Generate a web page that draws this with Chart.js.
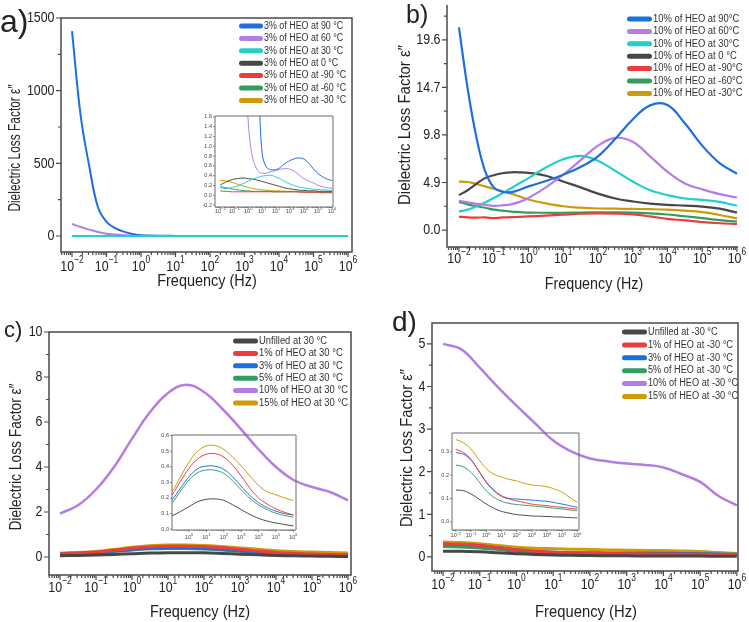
<!DOCTYPE html>
<html>
<head>
<meta charset="utf-8">
<title>Dielectric loss factor</title>
<script src="https://cdn.jsdelivr.net/npm/chart.js@4.4.1/dist/chart.umd.min.js"></script>
<style>
  body { margin: 0; background: #fff; }
  #fig { position: relative; width: 749px; height: 622px; overflow: hidden; font-family: "Liberation Sans", Arial, sans-serif; color: #222; }
  #fig canvas { position: absolute; }
  .txt { position: absolute; white-space: nowrap; line-height: 1; }
</style>
</head>
<body>
<div id="fig">
  <canvas id="chartA" width="375" height="300" style="left:0;top:0"></canvas>
  <canvas id="chartB" width="374" height="300" style="left:375px;top:0"></canvas>
  <canvas id="chartC" width="375" height="322" style="left:0;top:300px"></canvas>
  <canvas id="chartD" width="374" height="322" style="left:375px;top:300px"></canvas>
  <canvas id="insetA" width="145" height="118" style="left:195px;top:108px"></canvas>
  <canvas id="insetC" width="155" height="120" style="left:152px;top:425px"></canvas>
  <canvas id="insetD" width="157" height="122" style="left:432px;top:423px"></canvas>

  <div class="txt" style="left:0;top:5px;font-size:32px">a)</div>
  <div class="txt" style="left:406px;top:2px;font-size:25px">b)</div>
  <div class="txt" style="left:4px;top:319px;font-size:22px">c)</div>
  <div class="txt" style="left:392px;top:308px;font-size:28px">d)</div>

  <div class="txt" style="left:14px;top:148px;font-size:17px;transform:translate(-50%,-50%) rotate(-90deg) scaleX(0.70)">Dielectric Loss Factor ε″</div>
  <div class="txt" style="left:404px;top:125px;font-size:17px;transform:translate(-50%,-50%) rotate(-90deg) scaleX(0.88)">Dielectric Loss Factor ε″</div>
  <div class="txt" style="left:15px;top:457px;font-size:17px;transform:translate(-50%,-50%) rotate(-90deg) scaleX(0.81)">Dielectric Loss Factor ε″</div>
  <div class="txt" style="left:406px;top:448px;font-size:17px;transform:translate(-50%,-50%) rotate(-90deg) scaleX(0.87)">Dielectric Loss Factor ε″</div>

  <div class="txt" style="left:207px;top:280px;font-size:17px;transform:translate(-50%,-50%) scaleX(0.85)">Frequency (Hz)</div>
  <div class="txt" style="left:594px;top:283px;font-size:17px;transform:translate(-50%,-50%) scaleX(0.84)">Frequency (Hz)</div>
  <div class="txt" style="left:200px;top:611px;font-size:17px;transform:translate(-50%,-50%) scaleX(0.855)">Frequency (Hz)</div>
  <div class="txt" style="left:586px;top:611px;font-size:17px;transform:translate(-50%,-50%) scaleX(0.87)">Frequency (Hz)</div>
</div>

<script>
// ---- data (frequencies as log10 of Hz) ----

// a) 3% HEO at several temperatures
const freqExpA = [-2, -1.75, -1.5, -1.25, -1, -0.75, -0.5, -0.25, 0, 0.25, 0.5, 0.75, 1, 1.25, 1.5, 1.75, 2,
  2.25, 2.5, 2.75, 3, 3.25, 3.5, 3.75, 4, 4.25, 4.5, 4.75, 5, 5.25, 5.5, 5.75, 6];
const a90 = [1410, 830, 480, 200, 98, 55, 30, 14, 6, 3.5, 2.3, 1.9, 0.85, 0.6, 0.53, 0.52, 0.52,
  0.56, 0.62, 0.67, 0.71, 0.74, 0.76, 0.76, 0.74, 0.68, 0.6, 0.51, 0.44, 0.39, 0.35, 0.32, 0.3];
const a60 = [83, 62, 44, 28, 16, 10, 6, 3, 1.5, 0.85, 0.6, 0.48, 0.45, 0.45, 0.47, 0.49, 0.51,
  0.53, 0.54, 0.545, 0.53, 0.5, 0.45, 0.39, 0.34, 0.3, 0.27, 0.24, 0.2, 0.18, 0.16, 0.15, 0.14];
const a30 = [0.15, 0.14, 0.14, 0.15, 0.17, 0.19, 0.22, 0.25, 0.29, 0.32, 0.35, 0.37, 0.39, 0.4, 0.41, 0.4, 0.37,
  0.34, 0.3, 0.26, 0.23, 0.2, 0.18, 0.16, 0.15, 0.14, 0.13, 0.12, 0.12, 0.11, 0.11, 0.1, 0.1];
const a0 = [0.21, 0.25, 0.28, 0.31, 0.33, 0.34, 0.35, 0.35, 0.34, 0.33, 0.32, 0.3, 0.28, 0.26, 0.24, 0.22, 0.2,
  0.18, 0.16, 0.14, 0.13, 0.12, 0.11, 0.1, 0.1, 0.09, 0.09, 0.09, 0.08, 0.08, 0.08, 0.08, 0.07];
const aM90 = [0.09, 0.08, 0.08, 0.07, 0.07, 0.07, 0.07, 0.07, 0.07, 0.07, 0.07, 0.07, 0.07, 0.07, 0.07, 0.07, 0.07,
  0.07, 0.07, 0.07, 0.07, 0.07, 0.07, 0.06, 0.06, 0.06, 0.06, 0.06, 0.06, 0.05, 0.05, 0.05, 0.05];
const aM60 = [0.18, 0.16, 0.15, 0.13, 0.12, 0.11, 0.1, 0.09, 0.09, 0.08, 0.08, 0.08, 0.08, 0.08, 0.08, 0.07, 0.07,
  0.07, 0.07, 0.07, 0.07, 0.07, 0.07, 0.07, 0.07, 0.06, 0.06, 0.06, 0.06, 0.06, 0.06, 0.06, 0.06];
const aM30 = [0.3, 0.3, 0.29, 0.27, 0.25, 0.22, 0.2, 0.18, 0.16, 0.14, 0.13, 0.12, 0.11, 0.1, 0.1, 0.09, 0.09,
  0.09, 0.08, 0.08, 0.08, 0.08, 0.08, 0.07, 0.07, 0.07, 0.07, 0.07, 0.07, 0.06, 0.06, 0.06, 0.06];

// b) 10% HEO at several temperatures
const freqExpB = [-2, -1.75, -1.5, -1.25, -1, -0.75, -0.5, -0.25, 0, 0.5, 1, 1.5, 2, 2.5, 3, 3.5, 4, 4.5, 5, 5.5, 6];
const b90 = [20.9, 14.6, 9.6, 6.1, 4.4, 3.95, 3.9, 4.15, 4.5, 5.05, 5.7, 6.5, 7.6, 9.4, 11.4, 12.85, 12.9, 11.0, 8.7, 6.9, 5.8];
const b60 = [3.0, 2.85, 2.7, 2.6, 2.5, 2.55, 2.65, 2.9, 3.3, 4.4, 5.7, 7.2, 8.7, 9.5, 9.1, 7.6, 6.0, 4.8, 4.2, 3.7, 3.35];
const b30 = [1.9, 2.1, 2.45, 2.85, 3.3, 3.8, 4.3, 4.85, 5.35, 6.45, 7.3, 7.65, 7.15, 6.1, 5.0, 4.1, 3.6, 3.25, 3.1, 2.9, 2.5];
const b0 = [3.6, 4.1, 4.75, 5.35, 5.65, 5.85, 5.95, 5.95, 5.9, 5.6, 5.0, 4.4, 3.75, 3.25, 2.95, 2.72, 2.6, 2.52, 2.42, 2.2, 1.8];
const bM90 = [1.38, 1.3, 1.28, 1.3, 1.22, 1.3, 1.32, 1.36, 1.4, 1.48, 1.58, 1.68, 1.72, 1.7, 1.62, 1.4, 1.15, 1.0, 0.82, 0.7, 0.62];
const bM60 = [2.9, 2.65, 2.45, 2.3, 2.1, 2.0, 1.9, 1.85, 1.8, 1.78, 1.78, 1.8, 1.82, 1.82, 1.8, 1.72, 1.6, 1.42, 1.22, 1.02, 0.86];
const bM30 = [5.0, 4.95, 4.75, 4.5, 4.25, 4.0, 3.75, 3.45, 3.15, 2.75, 2.45, 2.3, 2.22, 2.2, 2.18, 2.15, 2.1, 2.0, 1.85, 1.55, 1.2];

// c) filler content at 30 °C
const freqExpC = [-2, -1.5, -1, -0.5, 0, 0.5, 1, 1.5, 2, 2.5, 3, 3.5, 4, 4.5, 5, 5.5, 6];
const cUnfilled = [0.055, 0.068, 0.085, 0.113, 0.145, 0.176, 0.191, 0.194, 0.184, 0.157, 0.125, 0.095, 0.07, 0.052, 0.04, 0.03, 0.021];
const c1 = [0.15, 0.18, 0.22, 0.305, 0.39, 0.45, 0.48, 0.483, 0.462, 0.41, 0.34, 0.262, 0.2, 0.16, 0.13, 0.108, 0.091];
const c3 = [0.13, 0.155, 0.187, 0.262, 0.336, 0.388, 0.404, 0.403, 0.383, 0.336, 0.275, 0.215, 0.17, 0.138, 0.115, 0.1, 0.091];
const c5 = [0.11, 0.135, 0.166, 0.242, 0.315, 0.362, 0.379, 0.377, 0.357, 0.31, 0.252, 0.197, 0.155, 0.125, 0.102, 0.088, 0.077];
const c10 = [1.93, 2.3, 3.0, 4.0, 5.26, 6.44, 7.29, 7.66, 7.33, 6.6, 5.73, 4.81, 4.0, 3.41, 3.11, 2.89, 2.52];
const c15 = [0.17, 0.2, 0.24, 0.335, 0.43, 0.5, 0.533, 0.535, 0.51, 0.462, 0.405, 0.34, 0.28, 0.24, 0.22, 0.2, 0.183];

// d) filler content at -30 °C
const freqExpD = [-2, -1.5, -1, -0.5, 0, 0.5, 1, 1.5, 2, 2.5, 3, 3.5, 4, 4.5, 5, 5.5, 6];
const dUnfilled = [0.136, 0.133, 0.119, 0.098, 0.076, 0.058, 0.045, 0.037, 0.031, 0.028, 0.025, 0.024, 0.023, 0.021, 0.02, 0.018, 0.017];
const d1 = [0.31, 0.296, 0.267, 0.218, 0.168, 0.133, 0.109, 0.098, 0.09, 0.083, 0.076, 0.072, 0.069, 0.065, 0.062, 0.058, 0.055];
const d3 = [0.296, 0.289, 0.263, 0.218, 0.171, 0.136, 0.112, 0.1, 0.098, 0.095, 0.093, 0.09, 0.088, 0.082, 0.076, 0.069, 0.062];
const d5 = [0.243, 0.235, 0.211, 0.173, 0.133, 0.105, 0.088, 0.079, 0.074, 0.071, 0.068, 0.065, 0.062, 0.058, 0.055, 0.051, 0.048];
const d10 = [5.0, 4.87, 4.44, 3.98, 3.55, 3.14, 2.73, 2.47, 2.31, 2.24, 2.19, 2.16, 2.1, 1.94, 1.76, 1.43, 1.21];
const d15 = [0.352, 0.338, 0.31, 0.267, 0.228, 0.204, 0.192, 0.182, 0.175, 0.165, 0.158, 0.154, 0.15, 0.14, 0.126, 0.105, 0.083];

// axis ticks
const xDecades = [-2, -1, 0, 1, 2, 3, 4, 5, 6];
const xDecadesInsetC = [0, 1, 2, 3, 4, 5, 6];
const yTicksA = [0, 500, 1000, 1500];
const yMinorA = [250, 750, 1250];
const yTicksB = [0, 4.9, 9.8, 14.7, 19.6];
const yMinorB = [2.45, 7.35, 12.25, 17.15, 22.05];
const yTicksC = [0, 2, 4, 6, 8, 10];
const yMinorC = [1, 3, 5, 7, 9];
const yTicksD = [0, 1, 2, 3, 4, 5];
const yMinorD = [0.5, 1.5, 2.5, 3.5, 4.5];
const yTicksInsetA = [-0.2, 0, 0.2, 0.4, 0.6, 0.8, 1.0, 1.2, 1.4, 1.6];
const yTicksInsetC = [0, 0.1, 0.2, 0.3, 0.4, 0.5, 0.6];
const yTicksInsetD = [0, 0.1, 0.2, 0.3];

// ---- drawing ----
const FONT = '"Liberation Sans", Arial, sans-serif';
const COL = {
  blue: "#1d6fe0",
  purple: "#b47de6",
  cyan: "#22cfcc",
  gray: "#474747",
  red: "#ee3c3c",
  green: "#2f9e60",
  gold: "#cf9a08"
};

function series(label, color, exps, vals, width, order) {
  return {
    label: label,
    data: exps.map((e, i) => ({ x: Math.pow(10, e), y: vals[i] })),
    borderColor: color,
    backgroundColor: color,
    borderWidth: width,
    pointRadius: 0,
    tension: 0.4,
    fill: false,
    order: order || 1
  };
}

function logTicks(minExp, maxExp, labelled) {
  const ticks = [];
  for (let e = Math.floor(minExp); e <= Math.ceil(maxExp); e++) {
    for (let d = 1; d <= 9; d++) {
      const v = d * Math.pow(10, e);
      const lv = Math.log10(v);
      if (lv >= minExp - 1e-9 && lv <= maxExp + 1e-9) {
        ticks.push({ value: v, major: d === 1 && labelled.includes(e) });
      }
    }
  }
  return ticks;
}

function drawText(ctx, text, x, y, align, k) {
  ctx.save();
  ctx.translate(x, y);
  ctx.scale(k, 1);
  ctx.textAlign = align;
  ctx.fillText(text, 0, 0);
  ctx.restore();
}

const decoPlugin = {
  id: "deco",
  afterDraw(chart, args, o) {
    const ctx = chart.ctx;
    const a = chart.chartArea;
    const xs = chart.scales.x;
    const ys = chart.scales.y;
    ctx.save();

    ctx.strokeStyle = o.frameColor;
    ctx.lineWidth = o.frameWidth;
    ctx.beginPath();
    if (o.box) {
      ctx.rect(a.left, a.top, a.right - a.left, a.bottom - a.top);
    } else {
      ctx.moveTo(a.left, a.top);
      ctx.lineTo(a.left, a.bottom);
      ctx.lineTo(a.right, a.bottom);
    }
    ctx.stroke();

    ctx.lineWidth = o.tickWidth;
    ctx.beginPath();
    xs.ticks.forEach((t) => {
      const p = xs.getPixelForValue(t.value);
      ctx.moveTo(p, a.bottom);
      ctx.lineTo(p, a.bottom + (t.major ? o.tickLen : o.minorLen));
    });
    ys.ticks.forEach((t) => {
      const p = ys.getPixelForValue(t.value);
      ctx.moveTo(a.left, p);
      ctx.lineTo(a.left - (t.major ? o.tickLen : o.minorLen), p);
    });
    ctx.stroke();

    ctx.fillStyle = o.textColor;
    ctx.textBaseline = "middle";
    ctx.font = o.fontSize + "px " + FONT;
    ys.ticks.forEach((t) => {
      if (!t.major) return;
      drawText(ctx, t.value.toFixed(o.yDec), a.left - o.yPad, ys.getPixelForValue(t.value), "right", o.squish);
    });

    xs.ticks.forEach((t) => {
      if (!t.major) return;
      const e = Math.round(Math.log10(t.value));
      const sup = e < 0 ? "\u2212" + (-e) : String(e);
      ctx.font = o.fontSize + "px " + FONT;
      const w1 = ctx.measureText("10").width * o.squish;
      ctx.font = o.supSize + "px " + FONT;
      const w2 = ctx.measureText(sup).width * o.squish;
      const x0 = xs.getPixelForValue(t.value) - (w1 + w2) / 2;
      const y0 = a.bottom + o.xDy;
      ctx.font = o.fontSize + "px " + FONT;
      drawText(ctx, "10", x0, y0, "left", o.squish);
      ctx.font = o.supSize + "px " + FONT;
      drawText(ctx, sup, x0 + w1, y0 - o.supRise, "left", o.squish);
    });

    const lg = o.legend;
    if (lg) {
      ctx.font = lg.size + "px " + FONT;
      ctx.lineCap = "round";
      chart.data.datasets.forEach((ds, i) => {
        const y = lg.y + i * lg.dy;
        ctx.strokeStyle = ds.borderColor;
        ctx.lineWidth = lg.lw;
        ctx.beginPath();
        ctx.moveTo(lg.x, y);
        ctx.lineTo(lg.x + lg.len, y);
        ctx.stroke();
        ctx.fillStyle = "#333";
        drawText(ctx, ds.label, lg.tx, y, "left", lg.k);
      });
    }
    ctx.restore();
  }
};

const mainDeco = {
  box: true, frameColor: "#4a4a4a", frameWidth: 1.5, tickWidth: 1.2, tickLen: 5, minorLen: 3,
  textColor: "#222", fontSize: 15.5, supSize: 10.5, supRise: 7, squish: 0.8, yPad: 6.5, yDec: 0, xDy: 14
};
const insetDeco = {
  box: true, frameColor: "#6a6a6a", frameWidth: 1, tickWidth: 0.8, tickLen: 2, minorLen: 1,
  textColor: "#444", fontSize: 5.5, supSize: 4, supRise: 2, squish: 1, yPad: 3, yDec: 1, xDy: 4, legend: false
};

function makeChart(id, g) {
  const canvas = document.getElementById(id);
  const W = canvas.width;
  const H = canvas.height;
  return new Chart(canvas, {
    type: "line",
    data: { datasets: g.datasets },
    options: {
      responsive: false,
      animation: false,
      devicePixelRatio: 1,
      layout: { padding: { left: 0, top: g.frame[1], right: W - g.frame[2], bottom: 0 } },
      plugins: { legend: { display: false }, tooltip: { enabled: false }, deco: g.deco },
      scales: {
        x: {
          type: "logarithmic",
          position: "bottom",
          bounds: "data",
          min: Math.pow(10, g.xRange[0]),
          max: Math.pow(10, g.xRange[1]),
          grid: { display: false, drawTicks: false },
          border: { display: false },
          ticks: { display: false },
          afterBuildTicks: (s) => { s.ticks = logTicks(g.xRange[0], g.xRange[1], g.xLabels); },
          afterFit: (s) => { s.height = H - g.frame[3]; }
        },
        y: {
          type: "linear",
          position: "left",
          bounds: "data",
          min: g.yRange[0],
          max: g.yRange[1],
          grid: { display: false, drawTicks: false },
          border: { display: false },
          ticks: { display: false },
          afterBuildTicks: (s) => {
            s.ticks = g.yMajor.map((v) => ({ value: v, major: true }))
              .concat((g.yMinor || []).map((v) => ({ value: v, major: false })))
              .sort((p, q) => p.value - q.value);
          },
          afterFit: (s) => { s.width = g.frame[0]; }
        }
      }
    },
    plugins: [decoPlugin]
  });
}

// a) main + inset
function seriesA(w, cyanOrder) {
  return [
    series("3% of HEO at 90 \u00B0C", COL.blue, freqExpA, a90, w),
    series("3% of HEO at 60 \u00B0C", COL.purple, freqExpA, a60, w),
    series("3% of HEO at 30 \u00B0C", COL.cyan, freqExpA, a30, w, cyanOrder),
    series("3% of HEO at 0 \u00B0C", COL.gray, freqExpA, a0, w),
    series("3% of HEO at -90 \u00B0C", COL.red, freqExpA, aM90, w),
    series("3% of HEO at -60 \u00B0C", COL.green, freqExpA, aM60, w),
    series("3% of HEO at -30 \u00B0C", COL.gold, freqExpA, aM30, w)
  ];
}

makeChart("chartA", {
  frame: [61, 18, 352, 252],
  xRange: [-2.319, 6.116], xLabels: xDecades,
  yRange: [-110, 1500], yMajor: yTicksA, yMinor: yMinorA,
  datasets: seriesA(2, 0.5),
  deco: Object.assign({}, mainDeco, { xDy: 15,
    legend: { x: 241.5, tx: 264, y: 26, dy: 12.4, len: 19, lw: 5, size: 10, k: 0.89 } })
});

makeChart("insetA", {
  frame: [20, 8, 138, 99],
  xRange: [-2.38, 6.07], xLabels: xDecades,
  yRange: [-0.241, 1.62], yMajor: yTicksInsetA,
  datasets: seriesA(1, 1),
  deco: Object.assign({}, insetDeco)
});

// b)
makeChart("chartB", {
  frame: [72, 5, 363, 247],
  xRange: [-2.344, 6.03], xLabels: xDecades,
  yRange: [-1.75, 23.2], yMajor: yTicksB, yMinor: yMinorB,
  datasets: [
    series("10% of HEO at 90\u00B0C", COL.blue, freqExpB, b90, 2.2),
    series("10% of HEO at 60\u00B0C", COL.purple, freqExpB, b60, 2.2),
    series("10% of HEO at 30\u00B0C", COL.cyan, freqExpB, b30, 2.2),
    series("10% of HEO at 0 \u00B0C", COL.gray, freqExpB, b0, 2.2),
    series("10% of HEO at -90\u00B0C", COL.red, freqExpB, bM90, 2.2),
    series("10% of HEO at -60\u00B0C", COL.green, freqExpB, bM60, 2.2),
    series("10% of HEO at -30\u00B0C", COL.gold, freqExpB, bM30, 2.2)
  ],
  deco: Object.assign({}, mainDeco, { box: false, yDec: 1, xDy: 12,
    legend: { x: 254.5, tx: 278, y: 19, dy: 12.4, len: 20, lw: 5, size: 10, k: 0.94 } })
});

// c) main + inset
makeChart("chartC", {
  frame: [49, 32, 351, 275],
  xRange: [-2.306, 6.083], xLabels: xDecades,
  yRange: [-0.8, 10], yMajor: yTicksC, yMinor: yMinorC,
  datasets: [
    series("Unfilled at 30 \u00B0C", COL.gray, freqExpC, cUnfilled, 3),
    series("1% of HEO at 30 \u00B0C", COL.red, freqExpC, c1, 3),
    series("3% of HEO at 30 \u00B0C", COL.blue, freqExpC, c3, 3),
    series("5% of HEO at 30 \u00B0C", COL.green, freqExpC, c5, 3),
    series("10% of HEO at 30 \u00B0C", COL.purple, freqExpC, c10, 2.5),
    series("15% of HEO at 30 \u00B0C", COL.gold, freqExpC, c15, 3)
  ],
  deco: Object.assign({}, mainDeco, { xDy: 13,
    legend: { x: 235.5, tx: 259, y: 41, dy: 12.4, len: 20, lw: 5, size: 10, k: 0.94 } })
});

makeChart("insetC", {
  frame: [20, 10, 144, 105],
  xRange: [-0.98, 6.15], xLabels: xDecadesInsetC,
  yRange: [-0.005, 0.603], yMajor: yTicksInsetC,
  datasets: [
    series("Unfilled at 30 \u00B0C", COL.gray, freqExpC, cUnfilled, 1),
    series("1% of HEO at 30 \u00B0C", COL.red, freqExpC, c1, 1),
    series("3% of HEO at 30 \u00B0C", COL.blue, freqExpC, c3, 1),
    series("5% of HEO at 30 \u00B0C", COL.green, freqExpC, c5, 1),
    series("15% of HEO at 30 \u00B0C", COL.gold, freqExpC, c15, 1)
  ],
  deco: Object.assign({}, insetDeco, { xDy: 7 })
});

// d) main + inset
makeChart("chartD", {
  frame: [57, 23, 363, 271],
  xRange: [-2.3, 6.03], xLabels: xDecades,
  yRange: [-0.33, 5.49], yMajor: yTicksD, yMinor: yMinorD,
  datasets: [
    series("Unfilled at -30 \u00B0C", COL.gray, freqExpD, dUnfilled, 3),
    series("1% of HEO at -30 \u00B0C", COL.red, freqExpD, d1, 3),
    series("3% of HEO at -30 \u00B0C", COL.blue, freqExpD, d3, 3),
    series("5% of HEO at -30 \u00B0C", COL.green, freqExpD, d5, 3),
    series("10% of HEO at -30 \u00B0C", COL.purple, freqExpD, d10, 2.5),
    series("15% of HEO at -30 \u00B0C", COL.gold, freqExpD, d15, 3)
  ],
  deco: Object.assign({}, mainDeco, { xDy: 14,
    legend: { x: 249.5, tx: 273, y: 32, dy: 12.9, len: 20, lw: 5, size: 10, k: 0.92 } })
});

makeChart("insetD", {
  frame: [20, 10, 147, 107],
  xRange: [-2.26, 6.11], xLabels: xDecades,
  yRange: [-0.035, 0.38], yMajor: yTicksInsetD,
  datasets: [
    series("Unfilled at -30 \u00B0C", COL.gray, freqExpD, dUnfilled, 1),
    series("1% of HEO at -30 \u00B0C", COL.red, freqExpD, d1, 1),
    series("3% of HEO at -30 \u00B0C", COL.blue, freqExpD, d3, 1),
    series("5% of HEO at -30 \u00B0C", COL.green, freqExpD, d5, 1),
    series("15% of HEO at -30 \u00B0C", COL.gold, freqExpD, d15, 1)
  ],
  deco: Object.assign({}, insetDeco, { xDy: 5.5 })
});
</script>
</body>
</html>
